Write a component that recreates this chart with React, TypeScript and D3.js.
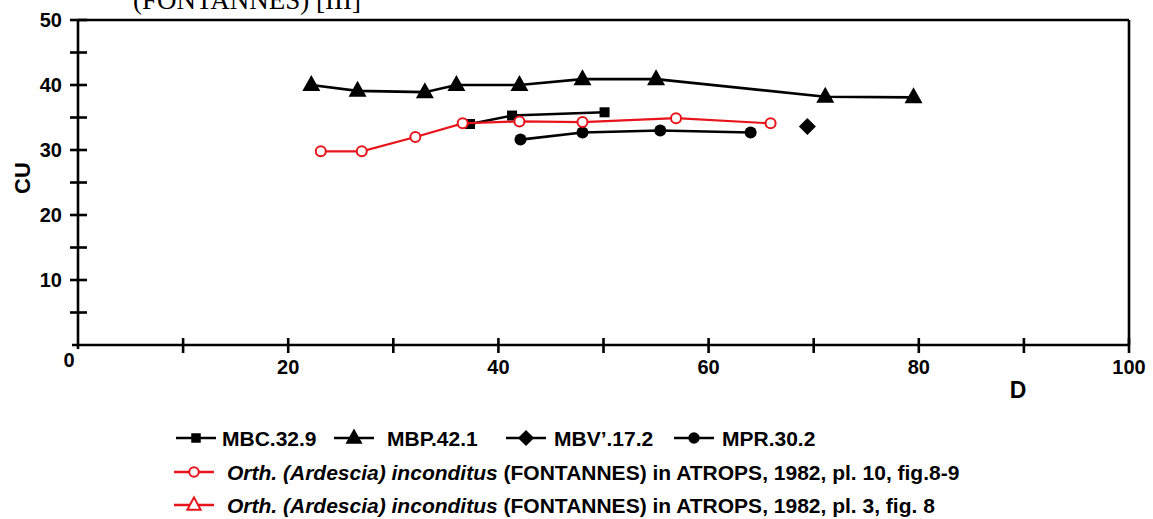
import React from "react";
import * as d3 from "d3";

const W = 1153;
const H = 519;

const xTicks = [0, 10, 20, 30, 40, 50, 60, 70, 80, 90, 100];
const xTickLabels = ["", "", "20", "", "40", "", "60", "", "80", "", "100"];
const yTicks = [5, 10, 15, 20, 25, 30, 35, 40, 45, 50];
const yTickLabels = ["", "10", "", "20", "", "30", "", "40", "", "50"];

const mbcD = [37.3, 41.3, 50.1];
const mbcCU = [34.0, 35.3, 35.8];
const mbpD = [22.2, 26.6, 33.0, 36.0, 42.0, 48.0, 55.0, 71.1, 79.5];
const mbpCU = [40.0, 39.1, 38.9, 40.0, 40.0, 40.9, 40.9, 38.2, 38.1];
const mbvD = [69.4];
const mbvCU = [33.6];
const mprD = [42.1, 48.0, 55.4, 64.0];
const mprCU = [31.6, 32.7, 33.0, 32.7];
const orthD = [23.1, 27.0, 32.1, 36.6, 42.0, 48.0, 56.9, 65.9];
const orthCU = [29.8, 29.8, 32.0, 34.1, 34.4, 34.3, 34.9, 34.1];

const legendRow1 = ["MBC.32.9", "MBP.42.1", "MBV\u2019.17.2", "MPR.30.2"];
const legendItalic = "Orth. (Ardescia) inconditus";
const legendRef1 = " (FONTANNES) in ATROPS, 1982, pl. 10, fig.8-9";
const legendRef2 = " (FONTANNES) in ATROPS, 1982, pl. 3, fig. 8";

const RED = "#e8141b";
const FONT = "'Liberation Sans', Arial, sans-serif";

const x = d3.scaleLinear().domain([0, 100]).range([78, 1129]);
const y = d3.scaleLinear().domain([0, 50]).range([345, 20]);

const zip = (a: number[], b: number[]) => a.map((v, i) => [v, b[i]] as [number, number]);
const line = d3
  .line<[number, number]>()
  .x((d) => x(d[0]))
  .y((d) => y(d[1]));

type Shape = "square" | "triangle" | "diamond" | "circle" | "ocircle" | "otriangle";

function Marker({ shape, cx, cy, k = 1 }: { shape: Shape; cx: number; cy: number; k?: number }) {
  switch (shape) {
    case "square":
      return <rect x={cx - 5 * k} y={cy - 5 * k} width={10 * k} height={10 * k} fill="#000" />;
    case "triangle":
      return (
        <path d={`M${cx},${cy - 10 * k} L${cx + 9 * k},${cy + 6 * k} L${cx - 9 * k},${cy + 6 * k} Z`} fill="#000" />
      );
    case "otriangle":
      return (
        <path
          d={`M${cx},${cy - 8 * k} L${cx + 7 * k},${cy + 5 * k} L${cx - 7 * k},${cy + 5 * k} Z`}
          fill="#fff"
          stroke={RED}
          strokeWidth={2}
        />
      );
    case "diamond":
      return (
        <path
          d={`M${cx},${cy - 8.5 * k} L${cx + 8.5 * k},${cy} L${cx},${cy + 8.5 * k} L${cx - 8.5 * k},${cy} Z`}
          fill="#000"
        />
      );
    case "circle":
      return <circle cx={cx} cy={cy} r={6 * k} fill="#000" />;
    case "ocircle":
      return <circle cx={cx} cy={cy} r={5 * k} fill="#fff" stroke={RED} strokeWidth={2} />;
  }
  return null;
}

function Series({ d, cu, shape, color }: { d: number[]; cu: number[]; shape: Shape; color: string }) {
  const pts = zip(d, cu);
  return (
    <g>
      {pts.length > 1 && (
        <path d={line(pts) || ""} fill="none" stroke={color} strokeWidth={color === RED ? 2.2 : 2.6} />
      )}
      {pts.map((p, i) => (
        <Marker key={i} shape={shape} cx={x(p[0])} cy={y(p[1])} />
      ))}
    </g>
  );
}

function LegendSym({ x0, cy, shape, color }: { x0: number; cy: number; shape: Shape; color: string }) {
  return (
    <g>
      <line x1={x0} x2={x0 + 40} y1={cy} y2={cy} stroke={color} strokeWidth={2.6} />
      <Marker shape={shape} cx={x0 + 20} cy={cy} k={0.95} />
    </g>
  );
}

export default function App() {
  const legendSymX = [176, 334, 506, 674];
  const legendTextX = [222, 387, 554, 722];
  const legendShapes: Shape[] = ["square", "triangle", "diamond", "circle"];
  const rowY = [438, 472, 505];
  return (
    <svg width={W} height={H} style={{ position: "absolute", left: 0, top: 0, background: "#fff" }}>
      <text x={133} y={9} fontFamily="'Liberation Serif', 'Times New Roman', serif" fontSize={27}>
        (FONTANNES) [III]
      </text>

      {/* frame */}
      <line x1={x(0)} x2={x(100)} y1={y(50)} y2={y(50)} stroke="#000" strokeWidth={2.6} />
      <line x1={x(100)} x2={x(100)} y1={y(50)} y2={y(0)} stroke="#000" strokeWidth={2.6} />
      <line x1={x(0) - 6} x2={x(100)} y1={y(0)} y2={y(0)} stroke="#000" strokeWidth={2.6} />
      <line x1={x(0)} x2={x(0)} y1={y(50)} y2={y(0) + 4} stroke="#000" strokeWidth={2.6} />

      {/* y ticks */}
      {yTicks.map((t, i) => (
        <g key={"y" + t}>
          <line x1={x(0) - 8} x2={x(0) + 9} y1={y(t)} y2={y(t)} stroke="#000" strokeWidth={2.6} />
          {yTickLabels[i] && (
            <text
              x={62}
              y={y(t)}
              dy="0.36em"
              textAnchor="end"
              fontFamily={FONT}
              fontWeight="bold"
              fontSize={20}
            >
              {yTickLabels[i]}
            </text>
          )}
        </g>
      ))}
      {/* x ticks */}
      {xTicks.map((t, i) => (
        <g key={"x" + t}>
          {t > 0 && <line x1={x(t)} x2={x(t)} y1={y(0) - 7} y2={y(0) + 8} stroke="#000" strokeWidth={2.6} />}
          {xTickLabels[i] && (
            <text x={x(t)} y={374} textAnchor="middle" fontFamily={FONT} fontWeight="bold" fontSize={20}>
              {xTickLabels[i]}
            </text>
          )}
        </g>
      ))}
      <text x={69} y={367} textAnchor="middle" fontFamily={FONT} fontWeight="bold" fontSize={20}>
        0
      </text>

      <text
        transform={`translate(30, 178) rotate(-90)`}
        textAnchor="middle"
        fontFamily={FONT}
        fontWeight="bold"
        fontSize={22}
      >
        CU
      </text>
      <text x={1018} y={398} textAnchor="middle" fontFamily={FONT} fontWeight="bold" fontSize={23}>
        D
      </text>

      {/* series */}
      <Series d={mbpD} cu={mbpCU} shape="triangle" color="#000" />
      <Series d={mbcD} cu={mbcCU} shape="square" color="#000" />
      <Series d={mprD} cu={mprCU} shape="circle" color="#000" />
      <Series d={mbvD} cu={mbvCU} shape="diamond" color="#000" />
      <Series d={orthD} cu={orthCU} shape="ocircle" color={RED} />

      {/* legend */}
      {legendRow1.map((lab, i) => (
        <g key={lab}>
          <LegendSym x0={legendSymX[i]} cy={rowY[0]} shape={legendShapes[i]} color="#000" />
          <text x={legendTextX[i]} y={rowY[0]} dy="0.36em" fontFamily={FONT} fontWeight="bold" fontSize={21}>
            {lab}
          </text>
        </g>
      ))}
      <LegendSym x0={174} cy={rowY[1]} shape="ocircle" color={RED} />
      <text x={227} y={rowY[1]} dy="0.36em" fontFamily={FONT} fontWeight="bold" fontSize={21}>
        <tspan fontStyle="italic">{legendItalic}</tspan>
        <tspan>{legendRef1}</tspan>
      </text>
      <LegendSym x0={174} cy={rowY[2]} shape="otriangle" color={RED} />
      <text x={227} y={rowY[2]} dy="0.36em" fontFamily={FONT} fontWeight="bold" fontSize={21}>
        <tspan fontStyle="italic">{legendItalic}</tspan>
        <tspan>{legendRef2}</tspan>
      </text>
    </svg>
  );
}
